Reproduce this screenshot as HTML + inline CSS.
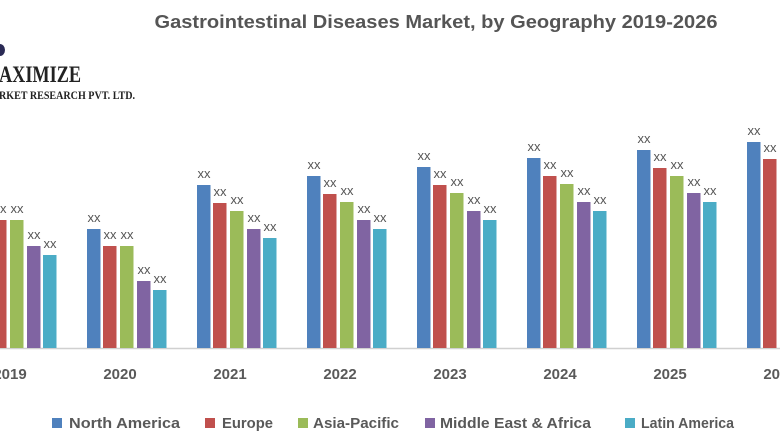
<!DOCTYPE html>
<html><head><meta charset="utf-8"><style>
html,body{margin:0;padding:0;background:#fff;width:780px;height:440px;overflow:hidden}
svg{display:block}
</style></head><body>
<svg width="780" height="440" viewBox="0 0 780 440" xmlns="http://www.w3.org/2000/svg" font-family="'Liberation Sans', sans-serif">
<rect width="780" height="440" fill="#fff"/>
<text x="436" y="28" text-anchor="middle" font-size="18" font-weight="bold" fill="#555" textLength="563" lengthAdjust="spacingAndGlyphs">Gastrointestinal Diseases Market, by Geography 2019-2026</text>
<path d="M0,44 A5,6 0 0 1 0,56 Z" fill="#2a2a55"/>
<text x="-1" y="82" font-family="'Liberation Serif', serif" font-weight="bold" font-size="23" fill="#222" textLength="82" lengthAdjust="spacingAndGlyphs">AXIMIZE</text>
<text x="-1" y="99" font-family="'Liberation Serif', serif" font-weight="bold" font-size="12" fill="#222" textLength="136" lengthAdjust="spacingAndGlyphs">RKET RESEARCH PVT. LTD.</text>
<line x1="0" y1="348.5" x2="780" y2="348.5" stroke="#d0d0d0" stroke-width="1.5"/>
<g fill="#4f81bd">
<rect x="-23" y="211" width="13.5" height="137"/><rect x="87" y="229" width="13.5" height="119"/><rect x="197" y="185" width="13.5" height="163"/><rect x="307" y="176" width="13.5" height="172"/><rect x="417" y="167" width="13.5" height="181"/><rect x="527" y="158" width="13.5" height="190"/><rect x="637" y="150" width="13.5" height="198"/><rect x="747" y="142" width="13.5" height="206"/>
</g>
<g fill="#c0504d">
<rect x="-7" y="220" width="13.5" height="128"/><rect x="103" y="246" width="13.5" height="102"/><rect x="213" y="203" width="13.5" height="145"/><rect x="323" y="194" width="13.5" height="154"/><rect x="433" y="185" width="13.5" height="163"/><rect x="543" y="176" width="13.5" height="172"/><rect x="653" y="168" width="13.5" height="180"/><rect x="763" y="159" width="13.5" height="189"/>
</g>
<g fill="#9bbb59">
<rect x="10" y="220" width="13.5" height="128"/><rect x="120" y="246" width="13.5" height="102"/><rect x="230" y="211" width="13.5" height="137"/><rect x="340" y="202" width="13.5" height="146"/><rect x="450" y="193" width="13.5" height="155"/><rect x="560" y="184" width="13.5" height="164"/><rect x="670" y="176" width="13.5" height="172"/>
</g>
<g fill="#8064a2">
<rect x="27" y="246" width="13.5" height="102"/><rect x="137" y="281" width="13.5" height="67"/><rect x="247" y="229" width="13.5" height="119"/><rect x="357" y="220" width="13.5" height="128"/><rect x="467" y="211" width="13.5" height="137"/><rect x="577" y="202" width="13.5" height="146"/><rect x="687" y="193" width="13.5" height="155"/>
</g>
<g fill="#4bacc6">
<rect x="43" y="255" width="13.5" height="93"/><rect x="153" y="290" width="13.5" height="58"/><rect x="263" y="238" width="13.5" height="110"/><rect x="373" y="229" width="13.5" height="119"/><rect x="483" y="220" width="13.5" height="128"/><rect x="593" y="211" width="13.5" height="137"/><rect x="703" y="202" width="13.5" height="146"/>
</g>
<g font-size="13" fill="#555" text-anchor="middle">
<text x="0" y="213">xx</text><text x="17" y="213">xx</text><text x="34" y="239">xx</text><text x="50" y="248">xx</text>
<text x="94" y="222">xx</text><text x="110" y="239">xx</text><text x="127" y="239">xx</text><text x="144" y="274">xx</text><text x="160" y="283">xx</text>
<text x="204" y="178">xx</text><text x="220" y="196">xx</text><text x="237" y="204">xx</text><text x="254" y="222">xx</text><text x="270" y="231">xx</text>
<text x="314" y="169">xx</text><text x="330" y="187">xx</text><text x="347" y="195">xx</text><text x="364" y="213">xx</text><text x="380" y="222">xx</text>
<text x="424" y="160">xx</text><text x="440" y="178">xx</text><text x="457" y="186">xx</text><text x="474" y="204">xx</text><text x="490" y="213">xx</text>
<text x="534" y="151">xx</text><text x="550" y="169">xx</text><text x="567" y="177">xx</text><text x="584" y="195">xx</text><text x="600" y="204">xx</text>
<text x="644" y="143">xx</text><text x="660" y="161">xx</text><text x="677" y="169">xx</text><text x="694" y="186">xx</text><text x="710" y="195">xx</text>
<text x="754" y="135">xx</text><text x="770" y="152">xx</text>
</g>
<g font-size="15" font-weight="bold" fill="#595959" text-anchor="middle">
<text x="10" y="379">2019</text><text x="120" y="379">2020</text><text x="230" y="379">2021</text><text x="340" y="379">2022</text><text x="450" y="379">2023</text><text x="560" y="379">2024</text><text x="670" y="379">2025</text><text x="780" y="379">2026</text>
</g>
<g font-size="15" font-weight="bold" fill="#595959">
<rect x="52" y="418" width="10" height="10" fill="#4f81bd"/><text x="69" y="428" textLength="111" lengthAdjust="spacingAndGlyphs">North America</text>
<rect x="205" y="418" width="10" height="10" fill="#c0504d"/><text x="222" y="428" textLength="51" lengthAdjust="spacingAndGlyphs">Europe</text>
<rect x="298" y="418" width="10" height="10" fill="#9bbb59"/><text x="313" y="428" textLength="86" lengthAdjust="spacingAndGlyphs">Asia-Pacific</text>
<rect x="425" y="418" width="10" height="10" fill="#8064a2"/><text x="440" y="428" textLength="151" lengthAdjust="spacingAndGlyphs">Middle East &amp; Africa</text>
<rect x="625" y="418" width="10" height="10" fill="#4bacc6"/><text x="641" y="428" textLength="93" lengthAdjust="spacingAndGlyphs">Latin America</text>
</g>
</svg>
</body></html>
